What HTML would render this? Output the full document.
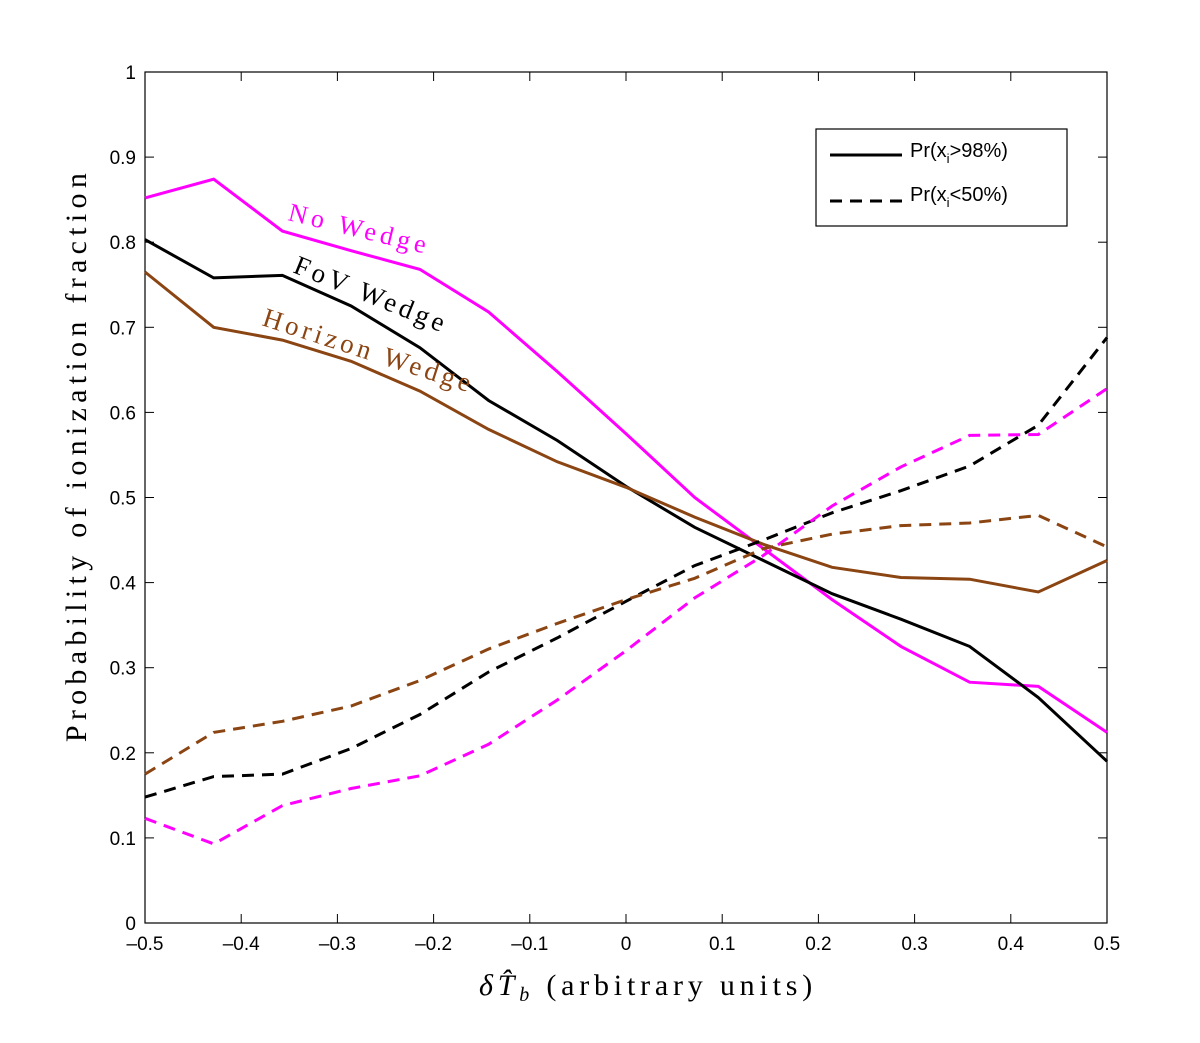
<!DOCTYPE html><html><head><style>body{margin:0;background:#fff}svg text{font-family:"Liberation Sans",sans-serif}</style></head><body>
<svg id="s" width="1200" height="1038" xmlns="http://www.w3.org/2000/svg"></svg>
<script>
const s=document.getElementById('s');
const X=v=>145+(v+0.5)*962, Y=v=>923-v*851;
let h='';
h+='<rect x="145" y="72" width="962" height="851" fill="#fff" stroke="#000" stroke-width="1.2"/>';
for(let i=0;i<=10;i++){const x=X(-0.5+i*0.1);h+=`<line x1="${x}" y1="923" x2="${x}" y2="914" stroke="#000"/><line x1="${x}" y1="72" x2="${x}" y2="81" stroke="#000"/>`;
const lb=(i==5?'0':((-0.5+i*0.1).toFixed(1).replace('-','–')));
h+=`<text x="${x}" y="950" font-size="19" text-anchor="middle">${lb}</text>`;}
for(let i=0;i<=10;i++){const y=Y(i/10);h+=`<line x1="145" y1="${y}" x2="154" y2="${y}" stroke="#000"/><line x1="1107" y1="${y}" x2="1098" y2="${y}" stroke="#000"/>`;
h+=`<text x="136" y="${y+7}" font-size="19" text-anchor="end">${i==0?'0':i==10?'1':(i/10).toFixed(1)}</text>`;}
const D={
ms:[0.852,0.874,0.813,0.79,0.768,0.718,0.648,0.575,0.50,0.44,0.38,0.325,0.283,0.278,0.224],
ks:[0.803,0.758,0.761,0.725,0.676,0.614,0.567,0.513,0.465,0.426,0.387,0.357,0.325,0.265,0.19],
bs:[0.765,0.700,0.685,0.660,0.625,0.580,0.542,0.512,0.477,0.445,0.418,0.406,0.404,0.389,0.426],
kd:[0.148,0.172,0.175,0.205,0.245,0.295,0.335,0.378,0.42,0.45,0.482,0.508,0.537,0.585,0.688],
md:[0.123,0.093,0.138,0.158,0.173,0.21,0.262,0.32,0.382,0.432,0.49,0.536,0.573,0.574,0.628],
bd:[0.175,0.224,0.237,0.255,0.285,0.322,0.352,0.38,0.405,0.44,0.457,0.467,0.47,0.479,0.442]};
const C={m:'#ff00ff',k:'#000',b:'#8b4513'};
for(const k in D){const p=D[k].map((v,i)=>X(-0.5+i/14).toFixed(1)+','+Y(v).toFixed(1)).join(' ');
h+=`<polyline points="${p}" fill="none" stroke="${C[k[0]]}" stroke-width="3" ${k[1]=='d'?'stroke-dasharray="12,8"':''}/>`;}
h+='<text transform="translate(287,220) rotate(13.7)" font-size="26" fill="#ff00ff" style="font-family:\'Liberation Serif\',serif;letter-spacing:4.5px">No Wedge</text>';
h+='<text transform="translate(292,272) rotate(22)" font-size="27" fill="#000" style="font-family:\'Liberation Serif\',serif;letter-spacing:4px">FoV Wedge</text>';
h+='<text transform="translate(261,325) rotate(18)" font-size="27" fill="#8b4513" style="font-family:\'Liberation Serif\',serif;letter-spacing:4px">Horizon Wedge</text>';
h+='<rect x="816" y="129" width="251" height="97" fill="#fff" stroke="#000" stroke-width="1.2"/>';
h+='<line x1="830" y1="155" x2="902" y2="155" stroke="#000" stroke-width="3"/><line x1="830" y1="201" x2="902" y2="201" stroke="#000" stroke-width="3" stroke-dasharray="12,8"/>';
h+='<text x="910" y="157" font-size="20">Pr(x<tspan font-size="13" dy="6">i</tspan><tspan dy="-6">&gt;98%)</tspan></text>';
h+='<text x="910" y="201" font-size="20">Pr(x<tspan font-size="13" dy="6">i</tspan><tspan dy="-6">&lt;50%)</tspan></text>';
h+='<text x="648" y="995" font-size="30" text-anchor="middle" style="font-family:\'Liberation Serif\',serif;letter-spacing:4.8px"><tspan font-style="italic">δT̂</tspan><tspan font-style="italic" font-size="20" dy="6">b</tspan><tspan dy="-6"> (arbitrary units)</tspan></text>';
h+='<text transform="translate(86,455) rotate(-90)" font-size="30" text-anchor="middle" style="font-family:\'Liberation Serif\',serif;letter-spacing:5.3px">Probability of ionization fraction</text>';
s.innerHTML=h;
</script></body></html>
